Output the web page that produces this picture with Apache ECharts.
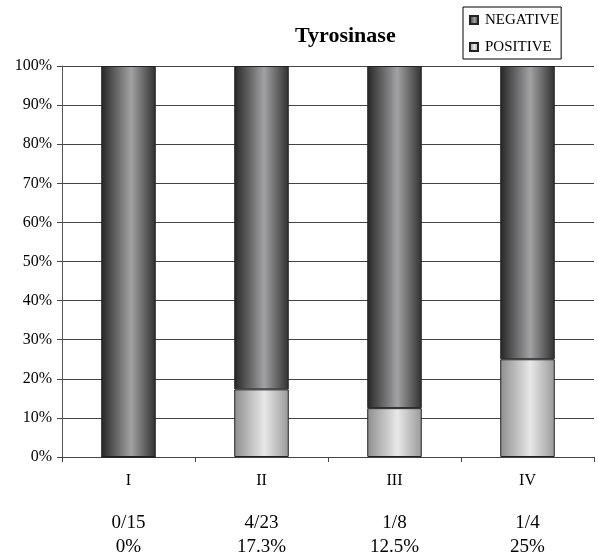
<!DOCTYPE html>
<html>
<head>
<meta charset="utf-8">
<script src="https://cdn.jsdelivr.net/npm/echarts@6/dist/echarts.min.js"></script>
<style>
  html, body { margin: 0; padding: 0; background: #fff; }
  #chart { width: 598px; height: 558px; }
</style>
</head>
<body>
<div id="chart"></div>
<script>
// Stages and their Tyrosinase staining results
const stages = ['I', 'II', 'III', 'IV'];
const counts = ['0/15', '4/23', '1/8', '1/4'];
const percentLabels = ['0%', '17.3%', '12.5%', '25%'];
const positive = [0, 17.3, 12.5, 25];
const negative = [100, 82.7, 87.5, 75];
const yTicks = [0, 10, 20, 30, 40, 50, 60, 70, 80, 90, 100];

const serif = '"Liberation Serif", "Times New Roman", serif';

function cylinder(stops) {
  return new echarts.graphic.LinearGradient(0, 0, 1, 0, stops);
}
const darkFill = cylinder([
  { offset: 0, color: '#262626' },
  { offset: 0.55, color: '#a2a2a4' },
  { offset: 1, color: '#303030' }
]);
const lightFill = cylinder([
  { offset: 0, color: '#8e8e8e' },
  { offset: 0.55, color: '#e8e8e8' },
  { offset: 1, color: '#9a9a9a' }
]);

const chart = echarts.init(document.getElementById('chart'), null, { renderer: 'canvas' });

chart.setOption({
  animation: false,
  backgroundColor: '#ffffff',
  title: {
    text: 'Tyrosinase',
    left: 290,
    top: 20,
    textStyle: { fontFamily: serif, fontSize: 22, fontWeight: 'bold', color: '#000' }
  },
  legend: {
    data: ['NEGATIVE', 'POSITIVE'],
    orient: 'vertical',
    left: 463,
    top: 7,
    padding: [5, 2, 4, 6],
    itemGap: 11,
    itemWidth: 8,
    itemHeight: 8,
    icon: 'rect',
    borderColor: '#000',
    borderWidth: 1,
    textStyle: { fontFamily: serif, fontSize: 15, color: '#000', lineHeight: 16, padding: [0, 0, 0, 2] }
  },
  grid: { left: 62, right: 4, top: 66, bottom: 101 },
  xAxis: {
    type: 'category',
    data: stages,
    axisLine: { lineStyle: { color: '#444', width: 1 } },
    axisTick: { show: true, length: 5, alignWithLabel: false, lineStyle: { color: '#444' } },
    axisLabel: {
      margin: 14,
      formatter: function (v, i) {
        return '{a|' + v + '}\n{s|}\n{b|' + counts[i] + '}\n{b|' + percentLabels[i] + '}';
      },
      rich: {
        a: { fontFamily: serif, fontSize: 16, color: '#000', lineHeight: 20 },
        s: { lineHeight: 20 },
        b: { fontFamily: serif, fontSize: 19, color: '#000', lineHeight: 24 }
      }
    },
    splitLine: { show: false }
  },
  yAxis: {
    type: 'value',
    min: 0,
    max: 100,
    interval: 10,
    axisLine: { show: true, lineStyle: { color: '#555', width: 1 } },
    axisTick: { show: true, length: 5, lineStyle: { color: '#444' } },
    axisLabel: {
      margin: 10,
      fontFamily: serif,
      fontSize: 16,
      color: '#000',
      formatter: function (v) { return yTicks.indexOf(v) >= 0 ? v + '%' : ''; }
    },
    splitLine: { show: true, lineStyle: { color: '#444', width: 1 } }
  },
  series: [
    {
      name: 'POSITIVE',
      type: 'bar',
      stack: 'total',
      data: positive,
      barWidth: '41%',
      itemStyle: { color: lightFill, borderColor: '#222', borderWidth: 1 }
    },
    {
      name: 'NEGATIVE',
      type: 'bar',
      stack: 'total',
      data: negative,
      barWidth: '41%',
      itemStyle: { color: darkFill, borderColor: '#222', borderWidth: 1 }
    }
  ]
});
</script>
</body>
</html>
